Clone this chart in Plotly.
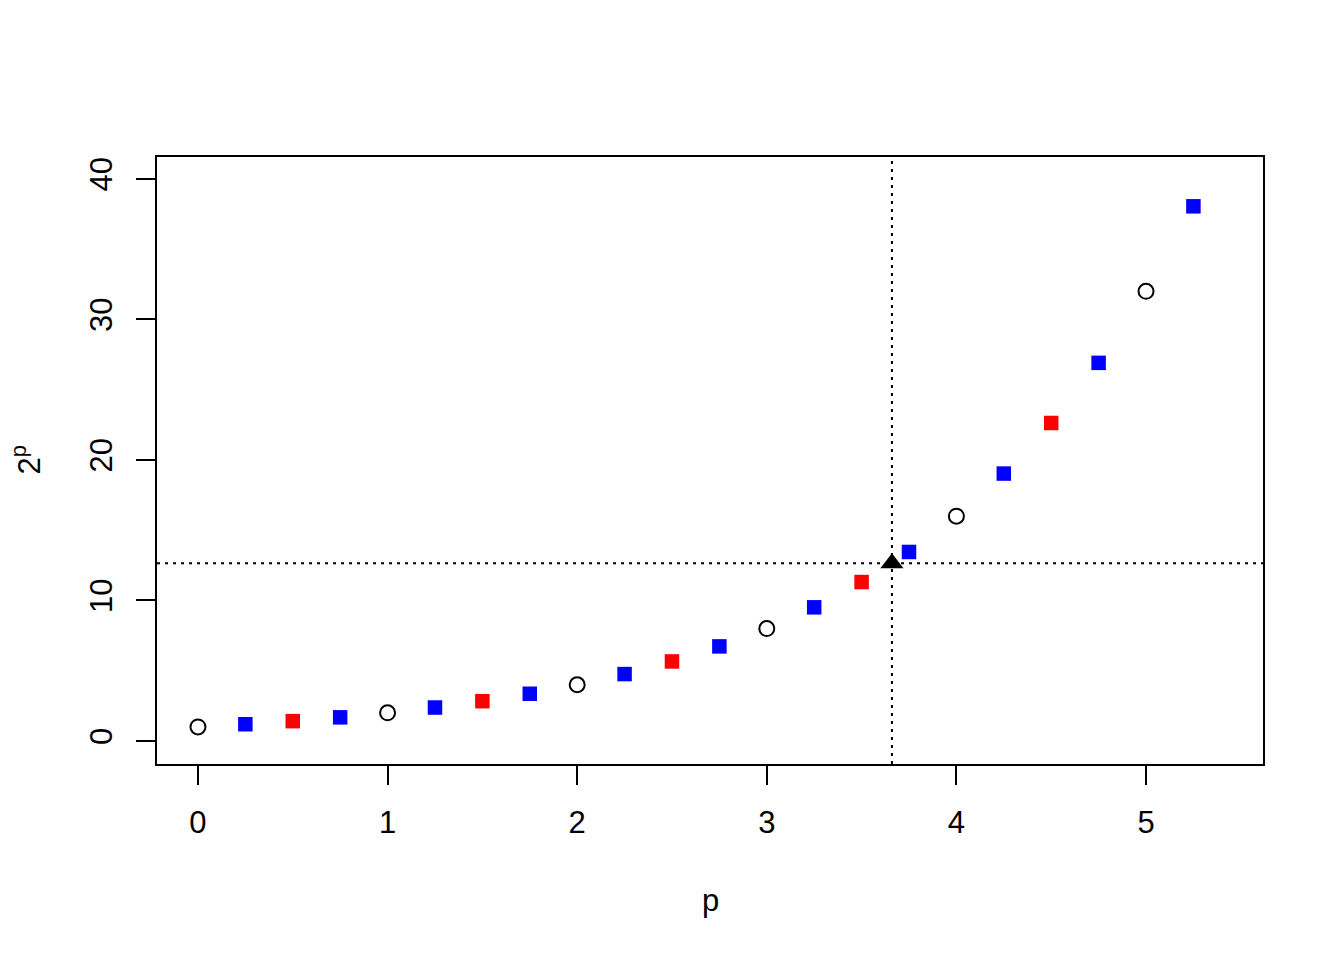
import plotly.graph_objects as go

# p values and 2^p values
p_circle = [0, 1, 2, 3, 4, 5]
v_circle = [1.0, 2.0, 4.0, 8.0, 16.0, 32.0]

p_red = [0.5, 1.5, 2.5, 3.5, 4.5]
v_red = [1.41, 2.83, 5.66, 11.31, 22.63]

p_blue = [0.25, 0.75, 1.25, 1.75, 2.25, 2.75, 3.25, 3.75, 4.25, 4.75, 5.25]
v_blue = [1.19, 1.68, 2.38, 3.36, 4.76, 6.73, 9.51, 13.45, 19.03, 26.91, 38.05]

p_tri = [3.66]
v_tri = [12.64]

x_ticks = [0, 1, 2, 3, 4, 5]
y_ticks = [0, 10, 20, 30, 40]

FONT = "Liberation Sans"
FS = 31

fig = go.Figure()
fig.add_trace(go.Scatter(x=p_circle, y=v_circle, mode="markers",
                         marker=dict(symbol="circle-open", size=15, color="black",
                                     line=dict(width=2, color="black"))))
fig.add_trace(go.Scatter(x=p_blue, y=v_blue, mode="markers",
                         marker=dict(symbol="square", size=14.5, color="#0000FF",
                                     line=dict(width=0))))
fig.add_trace(go.Scatter(x=p_red, y=v_red, mode="markers",
                         marker=dict(symbol="square", size=14.5, color="#FF0000",
                                     line=dict(width=0))))
fig.add_trace(go.Scatter(x=p_tri, y=v_tri, mode="markers",
                         marker=dict(symbol="triangle-up", size=20, color="black",
                                     line=dict(width=0))))

fig.add_shape(type="line", xref="x", yref="paper", x0=p_tri[0], x1=p_tri[0], y0=0, y1=1,
              line=dict(color="black", width=2, dash="3px,5px"), layer="below")
fig.add_shape(type="line", xref="paper", yref="y", x0=0, x1=1, y0=v_tri[0], y1=v_tri[0],
              line=dict(color="black", width=2, dash="3px,5px"), layer="below")

axis_common = dict(showgrid=False, zeroline=False, showline=True, linecolor="black",
                   linewidth=2, mirror=True, ticks="outside", ticklen=19,
                   tickwidth=2, tickcolor="black",
                   tickfont=dict(family=FONT, size=FS, color="black"))

fig.update_xaxes(range=[-0.216, 5.617], tickvals=x_ticks, ticklabelstandoff=11,
                 **axis_common)
fig.update_yaxes(range=[-1.64, 41.56], tickvals=y_ticks, tickangle=-90,
                 ticklabelstandoff=12, **axis_common)

fig.add_annotation(text="p", xref="paper", yref="paper", x=0.5, y=0,
                   yanchor="middle", xanchor="center", yshift=-136, showarrow=False,
                   font=dict(family=FONT, size=FS, color="black"))
fig.add_annotation(text="2<sup>p</sup>", xref="paper", yref="paper", x=0, y=0.5,
                   yanchor="middle", xanchor="center", xshift=-131, textangle=-90,
                   showarrow=False, font=dict(family=FONT, size=FS, color="black"))

fig.update_layout(width=1328, height=944, showlegend=False,
                  paper_bgcolor="white", plot_bgcolor="white",
                  margin=dict(l=149, r=73, t=149, b=188),
                  font=dict(family=FONT, size=FS, color="black"))

fig.write_html("out.html")
